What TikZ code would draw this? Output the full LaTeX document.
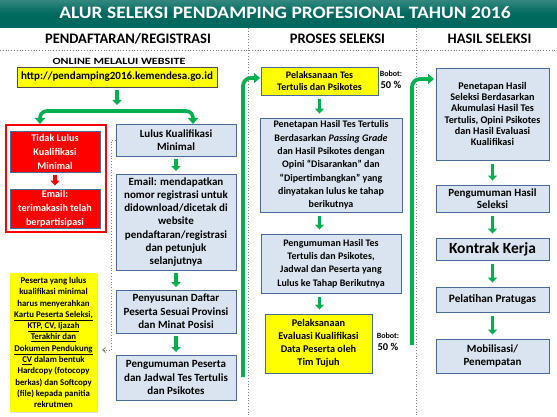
\documentclass[tikz,border=0pt]{standalone}
\usepackage{fontspec}
\setmainfont{Carlito}
\newfontfamily\tfont{Carlito}[FakeStretch=1.27]
\newfontfamily\ttlfont{Carlito}[FakeStretch=1.12]
\usetikzlibrary{arrows.meta,calc,shadows}
\definecolor{teal1}{HTML}{00695E}
\definecolor{bfill}{HTML}{DAE4F0}
\definecolor{bline}{HTML}{4A6B98}
\definecolor{ggreen}{HTML}{00B050}
\definecolor{yel}{HTML}{FFFF00}
\definecolor{redb}{HTML}{FF0000}
\definecolor{dotc}{HTML}{7F7F7F}
\begin{document}
\begin{tikzpicture}[x=1pt,y=-1pt,
  shd/.style={drop shadow={opacity=0.25,shadow xshift=1.2pt,shadow yshift=-1.2pt}},
  bx/.style={draw=bline, line width=0.9pt, fill=bfill, align=center, inner sep=1pt, shd,
    font=\bfseries\fontsize{11}{13.3}\selectfont},
  mbx/.style={bx, font=\bfseries\fontsize{10}{13.3}\selectfont},
  ybx/.style={bx, fill=yel},
  rbx/.style={bx, fill=redb, text=white, font=\bfseries\fontsize{10.2}{14}\selectfont},
  garr/.style={draw=ggreen, line width=3.6pt, shorten <=2.5pt, shorten >=2.5pt,
    -{Triangle[width=9pt,length=5pt]}},
  gbig/.style={draw=ggreen, line width=3.8pt, rounded corners=8pt,
    -{Triangle[width=10pt,length=6pt]}},
  dotl/.style={draw=dotc, dotted, line width=0.8pt},
  hdr/.style={font=\bfseries\fontsize{14.5}{16}\selectfont},
  bob/.style={align=center, font=\bfseries\fontsize{10.5}{12}\selectfont}
]
\useasboundingbox (0,0) rectangle (557,417);
\fill[white] (0,0) rectangle (557,417);
% title bar
\shade[top color=teal1!80!white, bottom color=teal1, middle color=teal1] (0,0) rectangle (557,28);
\node[text=white, inner sep=0pt, font=\ttlfont\bfseries\fontsize{17.4}{19}\selectfont] (title) at (285,12.7) {ALUR SELEKSI PENDAMPING PROFESIONAL TAHUN 2016};
% headers
\node[hdr] (h1) at (128,38.5) {PENDAFTARAN/REGISTRASI};
\node[hdr] (h2) at (337.5,38.5) {PROSES SELEKSI};
\node[hdr] (h3) at (489.5,38.5) {HASIL SELEKSI};
% dotted separators
\draw[dotl] (0,50) -- (557,50);
\draw[dotl] (248,28) -- (248,417);
\draw[dotl] (416,28) -- (416,417);

% ---------- left column ----------
\node[font=\tfont\bfseries\fontsize{9.5}{10}\selectfont] (online) at (119,61) {ONLINE MELALUI WEBSITE};
\node[ybx, draw=black!70, minimum width=200pt, minimum height=20pt,
  font=\bfseries\fontsize{11}{12}\selectfont] (url) at (117,77) {http://pendamping2016.kemendesa.go.id};
\coordinate (bj) at (117,111);
\coordinate (bl) at (40,124);
\coordinate (br) at (193,124);
\draw[garr, shorten >=0pt] (url.south) -- (117,105);
\draw[gbig, line width=3.6pt, rounded corners=7pt] (bj) -| (bl);
\draw[gbig, line width=3.6pt, rounded corners=7pt] (bj) -| (br);

\draw[redb, line width=1.6pt, fill=white] (6,125) rectangle (106,232);
\node[rbx, minimum width=90pt, minimum height=41pt] (tidak) at (55,151.5) {Tidak Lulus\\Kualifikasi\\Minimal};
\node[rbx, minimum width=90pt, minimum height=39pt] (emailr) at (55,208.5) {Email:\\terimakasih telah\\berpartisipasi};
\draw[draw=redb, line width=3.6pt, shorten <=2.5pt, shorten >=3pt, -{Triangle[width=9pt,length=5pt]}] (tidak.south) -- (emailr.north);

\node[bx, minimum width=120pt, minimum height=32pt] (lulus) at (176,140) {Lulus Kualifikasi\\Minimal};
\node[bx, minimum width=120pt, minimum height=96pt] (email) at (176,222) {Email: mendapatkan\\nomor registrasi untuk\\didownload/dicetak di\\website\\pendaftaran/registrasi\\dan petunjuk\\selanjutnya};
\node[bx, minimum width=120pt, minimum height=43pt] (susun) at (176,311.5) {Penyusunan Daftar\\Peserta Sesuai Provinsi\\dan Minat Posisi};
\node[bx, minimum width=120pt, minimum height=45pt] (umum1) at (176,377.5) {Pengumuman Peserta\\dan Jadwal Tes Tertulis\\dan Psikotes};
\draw[garr] (lulus.south) -- (email.north);
\draw[garr] (email.south) -- (susun.north);
\draw[garr] (susun.south) -- (umum1.north);

\node[ybx, draw=none, minimum width=87pt, minimum height=139pt,
  font=\bfseries\fontsize{8.8}{11.3}\selectfont] (note) at (53.5,342.5)
  {Peserta yang lulus\\kualifikasi minimal\\harus menyerahkan\\\underline{Kartu Peserta Seleksi,}\\\underline{KTP, CV, Ijazah}\\\underline{Terakhir dan}\\\underline{Dokumen Pendukung}\\\underline{CV} dalam bentuk\\Hardcopy (fotocopy\\berkas) dan Softcopy\\(file) kepada panitia\\rekrutmen};
\coordinate (notein) at (102,350);
\draw[dotl, -{Straight Barb[length=3pt,width=5pt]}] (lulus.west) -- ++(-4,0) |- (notein);

\coordinate (g1b) at (243,377);
\draw[gbig] (g1b) |- (260,78);

% ---------- middle column ----------
\node[ybx, minimum width=117pt, minimum height=28pt, font=\bfseries\fontsize{10}{12.5}\selectfont] (pel1) at (319.5,81) {Pelaksanaan Tes\\Tertulis dan Psikotes};
\node[mbx, minimum width=142pt, minimum height=94pt] (pen) at (331,165) {Penetapan Hasil Tes Tertulis\\Berdasarkan \textit{Passing Grade}\\dan Hasil Psikotes dengan\\Opini “Disarankan” dan\\“Dipertimbangkan” yang\\dinyatakan lulus ke tahap\\berikutnya};
\node[mbx, minimum width=140pt, minimum height=59pt] (umum2) at (331,263.5) {Pengumuman Hasil Tes\\Tertulis dan Psikotes,\\Jadwal dan Peserta yang\\Lulus ke Tahap Berikutnya};
\node[ybx, minimum width=107pt, minimum height=59pt, font=\bfseries\fontsize{10.3}{13}\selectfont] (pel2) at (318.5,343.5) {Pelaksanaan\\Evaluasi Kualifikasi\\Data Peserta oleh\\Tim Tujuh};
\draw[garr, shorten <=4pt, shorten >=4pt] (pel1.south) -- (pel1.south |- pen.north);
\draw[garr, shorten <=4pt, shorten >=4pt] (pel1.south |- pen.south) -- (pel1.south |- umum2.north);
\draw[garr, shorten <=4pt, shorten >=4pt] (pel1.south |- umum2.south) -- (pel1.south |- pel2.north);
\node[bob] (bob1) at (391,79.5) {{\fontsize{8}{9}\selectfont Bobot:}\\50 \%};
\node[bob] (bob2) at (388,342) {{\fontsize{8}{9}\selectfont Bobot:}\\50 \%};

\coordinate (g2b) at (412,345);
\coordinate (r1in) at (434,79);
\draw[gbig] (g2b) |- (r1in);

% ---------- right column ----------
\node[bx, minimum width=113pt, minimum height=92pt, font=\bfseries\fontsize{10.2}{11.3}\selectfont] (r1) at (492.5,114) {Penetapan Hasil\\Seleksi Berdasarkan\\Akumulasi Hasil Tes\\Tertulis, Opini Psikotes\\dan Hasil Evaluasi\\Kualifikasi};
\node[bx, minimum width=113pt, minimum height=27pt, font=\bfseries\fontsize{11}{12.5}\selectfont] (r2) at (492.5,198.5) {Pengumuman Hasil\\Seleksi};
\node[bx, minimum width=113pt, minimum height=22pt, font=\bfseries\fontsize{15.5}{17}\selectfont] (r3) at (492.5,249) {Kontrak Kerja};
\node[bx, minimum width=113pt, minimum height=25pt, font=\bfseries\fontsize{11.3}{12}\selectfont] (r4) at (492.5,299.5) {Pelatihan Pratugas};
\node[bx, minimum width=113pt, minimum height=34pt, font=\bfseries\fontsize{11}{13}\selectfont] (r5) at (492.5,356) {Mobilisasi/\\Penempatan};
\draw[garr, shorten <=4pt, shorten >=4pt] (r1.south) -- (r2.north);
\draw[garr, shorten <=4pt, shorten >=4pt] (r2.south) -- (r3.north);
\draw[garr, shorten <=4pt, shorten >=4pt] (r3.south) -- (r4.north);
\draw[garr, shorten <=4pt, shorten >=4pt] (r4.south) -- (r5.north);
\end{tikzpicture}
\end{document}
